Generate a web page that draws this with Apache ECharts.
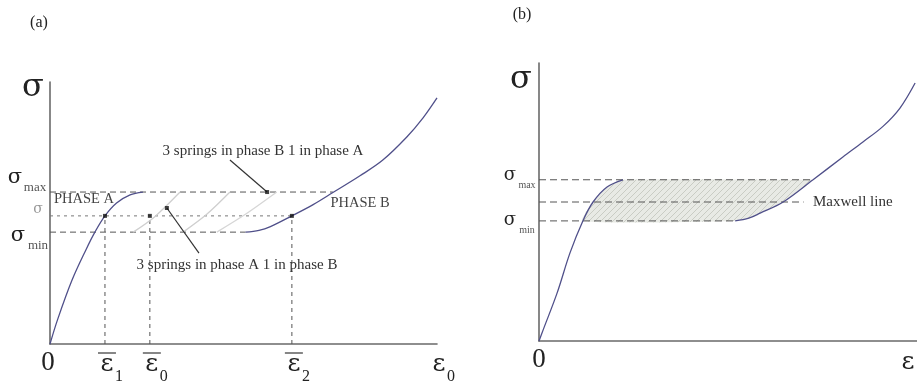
<!DOCTYPE html>
<html><head><meta charset="utf-8">
<script src="https://cdn.jsdelivr.net/npm/echarts@6/dist/echarts.min.js"></script>
<style>html,body{margin:0;padding:0;background:#fff}#c{width:917px;height:388px}</style>
</head><body><div id="c"></div>
<script>
// ---------- Panel (a) data ----------
const aSigmaMax = 5.80, aSigma = 4.89, aSigmaMin = 4.27;
const aTickVals = [0, 1.42, 2.58, 6.25, 10];
const aTickMain = ['0', 'ε', 'ε', 'ε', 'ε'];
const aTickSub = ['', '1', '0', '2', '0'];
const aTickBar = [false, true, true, true, false];
const aCurveA = [[0,0],[0.2,0.95],[0.57,2.44],[0.93,3.6],[1.16,4.27],[1.42,4.89],[1.72,5.38],[2.07,5.69],[2.40,5.80]];
const aCurveB = [[5.05,4.27],[5.40,4.34],[5.68,4.47],[6.25,4.89],[6.80,5.32],[7.31,5.78],[8.01,6.42],[8.60,7.02],[9.22,7.90],[9.64,8.63],[10,9.39]];
const aSpring1 = [[2.15,4.27],[2.70,4.85],[3.36,5.80]];
const aSpring2 = [[3.44,4.27],[4.05,4.95],[4.65,5.80]];
const aSpring3 = [[4.31,4.27],[5.05,4.95],[5.86,5.80]];
const aArrow1 = [[4.65,7.02],[5.61,5.80]];
const aArrow2 = [[3.85,3.47],[3.02,5.19]];
const aDots = [[1.42,4.89],[2.58,4.89],[6.25,4.89]];
const aMaxEnd = 7.31, aSigEnd = 6.25, aMinEnd = 5.05;

// ---------- Panel (b) data ----------
const bSigmaMax = 5.80, bMaxwell = 5.0, bSigmaMin = 4.32;
const bLeft = [[0,0],[0.11,0.40],[0.48,1.73],[0.82,3.17],[1.16,4.32],[1.43,5.0],[1.80,5.54],[2.22,5.80]];
const bRight = [[5.19,4.32],[5.55,4.42],[5.85,4.60],[6.46,5.0],[7.25,5.80],[8.04,6.62],[8.57,7.16],[9.10,7.72],[9.55,8.38],[9.95,9.28]];
const bMaxEnd = 7.25, bMaxwellEnd = 7.0, bMinEnd = 5.19;

const serif = "'Liberation Serif','Times New Roman',serif";
const greek = "'DejaVu Serif','Liberation Serif',serif";
const curveColor = '#50508a';
const dashColor = '#555';

// hatch pattern
const pc = document.createElement('canvas'); pc.width = 6; pc.height = 6;
const g = pc.getContext('2d');
g.fillStyle = '#e8eae5'; g.fillRect(0,0,6,6);
g.strokeStyle = '#c9ccc4'; g.lineWidth = 1;
g.beginPath(); g.moveTo(0,6); g.lineTo(6,0); g.moveTo(-1,1); g.lineTo(1,-1); g.moveTo(5,7); g.lineTo(7,5); g.stroke();

// shaded polygon from the curve arrays
const shadePoly = bLeft.filter(p => p[1] >= bSigmaMin - 1e-9)
  .concat([[bMaxEnd, bSigmaMax]])
  .concat(bRight.filter(p => p[1] <= bSigmaMax + 1e-9).slice().reverse());

function axisPair(idx) {
  const common = {type:'value', min:0, max:10, gridIndex:idx,
    axisLine:{show:true, lineStyle:{color:'#6a6a6a', width:1.6}},
    axisTick:{show:false}, axisLabel:{show:false}, splitLine:{show:false}};
  return [Object.assign({}, common), Object.assign({}, common)];
}
const xa = [axisPair(0)[0], axisPair(1)[0]];
const ya = [axisPair(0)[1], axisPair(1)[1]];

function line(data, ai, color, width, type, extra) {
  return Object.assign({type:'line', xAxisIndex:ai, yAxisIndex:ai, data:data, symbol:'none',
    lineStyle:{color:color, width:width, type:type||'solid'}, silent:true, z:3}, extra||{});
}

const series = [
  // (a)
  line([[0,aSigmaMax],[aMaxEnd,aSigmaMax]], 0, dashColor, 1, [6,4]),
  line([[0,aSigma],[aSigEnd,aSigma]], 0, '#777', 1, [3,4]),
  line([[0,aSigmaMin],[aMinEnd,aSigmaMin]], 0, dashColor, 1, [6,4]),
  line([[aTickVals[1],0],[aTickVals[1],aSigma]], 0, dashColor, 1, [4,4]),
  line([[aTickVals[2],0],[aTickVals[2],aSigma]], 0, dashColor, 1, [4,4]),
  line([[aTickVals[3],0],[aTickVals[3],aSigma]], 0, dashColor, 1, [4,4]),
  line(aSpring1, 0, '#cfcfcf', 1.3, 'solid', {smooth:0.3}),
  line(aSpring2, 0, '#cfcfcf', 1.3, 'solid', {smooth:0.3}),
  line(aSpring3, 0, '#d6d6d6', 1.3, 'solid', {smooth:0.3}),
  line(aCurveA, 0, curveColor, 1.3, 'solid', {smooth:0.35}),
  line(aCurveB, 0, curveColor, 1.3, 'solid', {smooth:0.35}),
  line(aArrow1, 0, '#333', 1.2),
  line(aArrow2, 0, '#333', 1.2),
  {type:'scatter', xAxisIndex:0, yAxisIndex:0, data:aDots.concat([aArrow1[1], aArrow2[1]]), symbol:'rect', symbolSize:4,
   itemStyle:{color:'#111'}, silent:true, z:5},
  // (b)
  {type:'custom', xAxisIndex:1, yAxisIndex:1, data:[[0,0]], silent:true, z:1,
   renderItem:function(params, api){
     const pts = shadePoly.map(p => api.coord(p));
     return {type:'polygon', shape:{points:pts, smooth:0.2}, style:{fill:{image:pc, repeat:'repeat'}, stroke:null}};
   }},
  line([[0,bSigmaMax],[bMaxEnd,bSigmaMax]], 1, dashColor, 1, [7,4]),
  line([[0,bMaxwell],[bMaxwellEnd,bMaxwell]], 1, dashColor, 1, [7,4]),
  line([[0,bSigmaMin],[bMinEnd,bSigmaMin]], 1, dashColor, 1, [7,4]),
  line(bLeft, 1, curveColor, 1.3, 'solid', {smooth:0.35}),
  line(bRight, 1, curveColor, 1.3, 'solid', {smooth:0.35})
];

const chart = echarts.init(document.getElementById('c'), null, {renderer:'canvas'});
chart.setOption({
  animation:false,
  backgroundColor:'#fff',
  grid:[{left:50, top:82, width:387, height:262}, {left:539, top:63, width:378, height:278}],
  xAxis:xa, yAxis:ya, series:series
});

function T(x, y, text, size, opts) {
  opts = opts || {};
  return {type:'text', x:x, y:y, silent:true, z:10,
    style:{text:text, fontFamily:opts.font||serif, fontSize:size, fill:opts.color||'#222',
      align:opts.align||'center', verticalAlign:opts.va||'middle', fontWeight:opts.weight||'normal'}};
}
const gr = [];
// (a) texts
gr.push(T(39,23,'(a)',16));
gr.push(T(33,88,'σ',32,{font:greek}));
gr.push(T(15,178,'σ',21,{font:greek}));
gr.push(T(35,188,'max',13,{color:'#555'}));
gr.push(T(38,209,'σ',14,{color:'#999',font:greek}));
gr.push(T(18,236,'σ',21,{font:greek}));
gr.push(T(38,246,'min',13,{color:'#555'}));
gr.push(T(54,199,'PHASE A',14.5,{align:'left',color:'#444'}));
gr.push(T(360,203,'PHASE B',14.5,{color:'#444'}));
gr.push(T(263,151,'3 springs in phase B 1 in phase A',15,{color:'#333'}));
gr.push(T(237,265,'3 springs in phase A 1 in phase B',15,{color:'#333'}));
aTickVals.forEach(function(v,i){
  const p = chart.convertToPixel({gridIndex:0}, [v,0]);
  const cx = p[0] + (i===0 ? -2 : 2);
  if (i === 0) gr.push(T(cx, 363, aTickMain[i], 27));
  else gr.push(T(cx, 364, aTickMain[i], 25, {font:greek}));
  if (aTickSub[i]) gr.push(T(cx+12, 377, aTickSub[i], 16));
  if (aTickBar[i]) gr.push({type:'line', silent:true, z:10, shape:{x1:cx-9, y1:353, x2:cx+9, y2:353}, style:{stroke:'#444', lineWidth:1.3}});
});
// (b) texts
gr.push(T(522,15,'(b)',16));
gr.push(T(521,80,'σ',32,{font:greek}));
gr.push(T(510,175,'σ',18,{font:greek}));
gr.push(T(527,185,'max',10,{color:'#555'}));
gr.push(T(510,220,'σ',18,{font:greek}));
gr.push(T(527,230,'min',10,{color:'#555'}));
gr.push(T(813,202,'Maxwell line',15,{align:'left',color:'#333'}));
const b0 = chart.convertToPixel({gridIndex:1}, [0,0]);
gr.push(T(b0[0], 360, '0', 27));
const b1 = chart.convertToPixel({gridIndex:1}, [10,0]);
gr.push(T(b1[0]-9, 362, 'ε', 25, {font:greek}));
gr.push(T(b1[0]+4, 376, '0', 16));
chart.setOption({graphic:gr});
</script></body></html>
